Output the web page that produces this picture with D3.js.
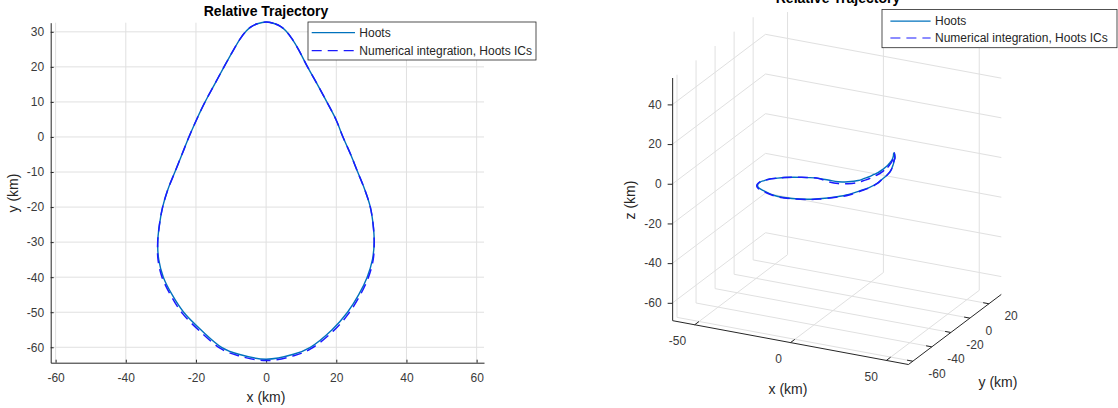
<!DOCTYPE html>
<html>
<head>
<meta charset="utf-8">
<script src="https://cdn.jsdelivr.net/npm/d3@7"></script>
<style>
body { margin: 0; background: #fff; }
svg text { font-family: "Liberation Sans", Arial, Helvetica, sans-serif; }
</style>
</head>
<body>
<script>
// relative position (km), one lap, Hoots solution
var hootsX = [0,2.5,4.2,5.6,7.4,9.2,11.8,14.6,17.3,19.9,21.9,24.1,26.1,28.1,29.7,30.5,30.8,30.3,28.8,26.4,23.2,18.8,12.6,7.8,0,-7.8,-12.7,-18.6,-23.5,-26.8,-29.3,-30.6,-30.9,-30.4,-29.5,-28,-26,-24,-22,-19.8,-17.4,-14.7,-12,-9.2,-7.4,-5.6,-4.2,-2.5];
var hootsY = [32.8,32.3,31.5,30.3,28,25,20,15,10,5,0,-5,-10,-15,-20,-25,-30,-35,-40,-45,-50,-55,-60,-62,-63.4,-62,-60,-55,-50,-45,-40,-35,-30,-25,-20,-15,-10,-5,0,5,10,15,20,25,28,30.3,31.5,32.3];
var hootsZ = [-16.8,-14.4,-12.3,-10.6,-8.1,-5.7,-2.2,0.4,1.7,2.4,3.1,3.8,4.7,5.6,6.2,6.4,6.5,5.9,5.4,5.1,4.5,4.3,4.1,3.7,3.2,2.3,1.9,0.6,-0.8,-2.3,-3.5,-4.3,-5.4,-6.3,-7.6,-8.8,-10.1,-11.6,-13.2,-15.0,-17.2,-19.4,-20.7,-21.4,-21.1,-20.6,-19.8,-18.8];

// numerical integration from the Hoots initial conditions
var numX = [0,2.5,4.2,5.6,7.4,9.2,11.8,14.6,17.3,19.9,21.9,24.1,26.1,28.1,29.7,30.5,30.8,30.5,29.1,26.7,23.5,19.1,12.8,7.9,0,-7.9,-12.9,-18.9,-23.8,-27.1,-29.6,-30.8,-30.9,-30.4,-29.5,-28,-26,-24,-22,-19.8,-17.4,-14.7,-12,-9.2,-7.4,-5.6,-4.2,-2.5];
var numY = [32.8,32.3,31.5,30.3,28,25,20,15,10,5,0,-5,-10,-15,-20,-25,-30,-35.1,-40.2,-45.3,-50.4,-55.4,-60.4,-62.4,-63.8,-62.4,-60.4,-55.4,-50.4,-45.3,-40.2,-35.1,-30,-25,-20,-15,-10,-5,0,5,10,15,20,25,28,30.3,31.5,32.3];
var numZ = [-17.8,-15.4,-13.2,-11.4,-8.8,-6.3,-2.6,0.4,1.7,2.4,3.1,3.8,4.7,5.6,6.2,6.4,6.5,5.9,5.4,5.1,4.5,4.3,4.1,3.7,3.2,2.3,1.9,0.6,-0.8,-2.3,-3.5,-4.3,-5.4,-6.3,-7.6,-8.8,-10.1,-11.6,-13.2,-15.0,-18.0,-20.3,-21.7,-22.4,-22.1,-21.6,-20.8,-19.8];

var xTicks2d = [-60,-40,-20,0,20,40,60];
var yTicks2d = [30,20,10,0,-10,-20,-30,-40,-50,-60];
var xTicks3d = [-50,0,50];
var yTicks3d = [-60,-40,-20,0,20];
var zTicks3d = [-60,-40,-20,0,20,40];
var legendLabels = ['Hoots','Numerical integration, Hoots ICs'];
var chartTitle = 'Relative Trajectory';

var ink = '#262626';
var gridColor = '#e0e0e0';
var hootsColor = '#0072bd';
var numColor = '#1a1aff';
var dash = '10,6';

var svg = d3.select('body').append('svg')
	.attr('width',1118)
	.attr('height',408);

var closedLine = d3.line().curve(d3.curveCatmullRomClosed.alpha(0.5));

function legend(g, x, y, w, h, rows, lineX0, lineX1, textX){
	g.append('rect')
		.attr('x',x).attr('y',y).attr('width',w).attr('height',h)
		.attr('fill','#fff').attr('stroke',ink).attr('stroke-width',0.8);
	legendLabels.forEach(function(lab,i){
		g.append('line')
			.attr('x1',x+lineX0).attr('x2',x+lineX1)
			.attr('y1',y+rows[i]).attr('y2',y+rows[i])
			.attr('stroke',i===0 ? hootsColor : numColor)
			.attr('stroke-width',1.2)
			.attr('stroke-dasharray',i===0 ? null : dash);
		g.append('text')
			.attr('x',x+textX).attr('y',y+rows[i])
			.attr('dominant-baseline','central')
			.attr('font-size',12).attr('fill',ink)
			.text(lab);
	});
}

// ---------------- left: x-y plane ----------------
var x2 = d3.scaleLinear().domain([-61.4,62.1]).range([50.7,484]);
var y2 = d3.scaleLinear().domain([-64.4,32.6]).range([362.7,22.7]);
var left = svg.append('g');

left.append('g').selectAll('line')
	.data(xTicks2d).enter().append('line')
	.attr('x1',d=>x2(d)).attr('x2',d=>x2(d))
	.attr('y1',y2.range()[0]).attr('y2',y2.range()[1])
	.attr('stroke',gridColor);
left.append('g').selectAll('line')
	.data(yTicks2d).enter().append('line')
	.attr('x1',x2.range()[0]).attr('x2',x2.range()[1])
	.attr('y1',d=>y2(d)).attr('y2',d=>y2(d))
	.attr('stroke',gridColor);

var xAxis2 = left.append('g')
	.attr('transform','translate(0,'+y2.range()[0]+')')
	.call(d3.axisBottom(x2).tickValues(xTicks2d).tickFormat(d=>String(d))
		.tickSizeInner(-3).tickSizeOuter(0).tickPadding(11));
var yAxis2 = left.append('g')
	.attr('transform','translate('+x2.range()[0]+',0)')
	.call(d3.axisLeft(y2).tickValues(yTicks2d).tickFormat(d=>String(d))
		.tickSizeInner(-3).tickSizeOuter(0).tickPadding(6.5));
[xAxis2,yAxis2].forEach(function(a){
	a.attr('font-family',null).attr('font-size',12);
	a.selectAll('path,line').attr('stroke',ink);
	a.selectAll('text').attr('fill','#3a3a3a');
});

left.append('path')
	.attr('d',closedLine(hootsX.map((d,i)=>[x2(d),y2(hootsY[i])])))
	.attr('fill','none').attr('stroke',hootsColor).attr('stroke-width',1.4);
left.append('path')
	.attr('d',closedLine(numX.map((d,i)=>[x2(d),y2(numY[i])])))
	.attr('fill','none').attr('stroke',numColor).attr('stroke-width',1.5)
	.attr('stroke-dasharray',dash);

left.append('text')
	.attr('x',266).attr('y',16)
	.attr('text-anchor','middle').attr('font-size',14).attr('font-weight','bold')
	.attr('fill','#000').text(chartTitle);
left.append('text')
	.attr('x',266).attr('y',402)
	.attr('text-anchor','middle').attr('font-size',14).attr('fill',ink)
	.text('x (km)');
left.append('text')
	.attr('transform','translate(18,193) rotate(-90)')
	.attr('text-anchor','middle').attr('font-size',14).attr('fill',ink)
	.text('y (km)');

legend(left.append('g'),308,22,228,38,[10.7,28.7],3.7,47,51.3);

// ---------------- right: 3D view ----------------
var az = 26.4*Math.PI/180, el = 22*Math.PI/180;
var lim = {x:[-61.5,61.5], y:[-64.6,33], z:[-69,53.3]};
var k3 = 2.14;
var u3 = d3.scaleLinear().domain([0,1]).range([852,852+k3]);
var v3 = d3.scaleLinear().domain([0,1]).range([159.3,159.3-k3]);
function proj(x,y,z){
	var u = Math.cos(az)*x + Math.sin(az)*y;
	var v = -Math.sin(el)*Math.sin(az)*x + Math.sin(el)*Math.cos(az)*y + Math.cos(el)*z;
	return [u3(u),v3(v)];
}
var right = svg.append('g');
var x0 = lim.x[0], x1 = lim.x[1], y0 = lim.y[0], y1 = lim.y[1], z0 = lim.z[0], z1 = lim.z[1];

var gridSegs = [];
xTicks3d.forEach(function(t){
	gridSegs.push([[t,y0,z0],[t,y1,z0]]);   // floor
	gridSegs.push([[t,y1,z0],[t,y1,z1]]);   // back wall
});
yTicks3d.forEach(function(t){
	gridSegs.push([[x0,t,z0],[x1,t,z0]]);   // floor
	gridSegs.push([[x0,t,z0],[x0,t,z1]]);   // side wall
});
zTicks3d.forEach(function(t){
	gridSegs.push([[x0,y0,t],[x0,y1,t]]);   // side wall
	gridSegs.push([[x0,y1,t],[x1,y1,t]]);   // back wall
});
right.append('g').selectAll('line')
	.data(gridSegs).enter().append('line')
	.attr('x1',d=>proj(...d[0])[0]).attr('y1',d=>proj(...d[0])[1])
	.attr('x2',d=>proj(...d[1])[0]).attr('y2',d=>proj(...d[1])[1])
	.attr('stroke',gridColor);

// axis lines
var axisSegs = [
	[[x0,y0,z0],[x1,y0,z0]],
	[[x1,y0,z0],[x1,y1,z0]],
	[[x0,y0,z0],[x0,y0,z1]]
];
right.append('g').selectAll('line')
	.data(axisSegs).enter().append('line')
	.attr('x1',d=>proj(...d[0])[0]).attr('y1',d=>proj(...d[0])[1])
	.attr('x2',d=>proj(...d[1])[0]).attr('y2',d=>proj(...d[1])[1])
	.attr('stroke',ink);

// z axis with d3 axis on projected scale
var zScale = d3.scaleLinear().domain([z0,z1])
	.range([proj(x0,y0,z0)[1],proj(x0,y0,z1)[1]]);
var zAxis = right.append('g')
	.attr('transform','translate('+proj(x0,y0,z0)[0]+',0)')
	.call(d3.axisLeft(zScale).tickValues(zTicks3d).tickFormat(d=>String(d))
		.tickSizeInner(5).tickSizeOuter(0).tickPadding(6));
zAxis.attr('font-family',null).attr('font-size',12);
zAxis.select('.domain').remove();
zAxis.selectAll('line').attr('stroke',ink);
zAxis.selectAll('text').attr('fill','#3a3a3a');

// x ticks and labels
var xt = right.append('g').selectAll('g').data(xTicks3d).enter().append('g');
xt.append('line')
	.attr('x1',d=>proj(d,y0,z0)[0]).attr('y1',d=>proj(d,y0,z0)[1])
	.attr('x2',d=>proj(d,y0+4.5,z0)[0]).attr('y2',d=>proj(d,y0+4.5,z0)[1])
	.attr('stroke',ink);
xt.append('text')
	.attr('x',d=>proj(d,y0,z0)[0]-8.5).attr('y',d=>proj(d,y0,z0)[1]+16.5)
	.attr('text-anchor','end').attr('dominant-baseline','central')
	.attr('font-size',12).attr('fill','#3a3a3a')
	.text(d=>String(d));

// y ticks and labels
var yt = right.append('g').selectAll('g').data(yTicks3d).enter().append('g');
yt.append('line')
	.attr('x1',d=>proj(x1,d,z0)[0]).attr('y1',d=>proj(x1,d,z0)[1])
	.attr('x2',d=>proj(x1-3,d,z0)[0]).attr('y2',d=>proj(x1-3,d,z0)[1])
	.attr('stroke',ink);
yt.append('text')
	.attr('x',d=>proj(x1,d,z0)[0]+15.5).attr('y',d=>proj(x1,d,z0)[1]+12.5)
	.attr('text-anchor','start').attr('dominant-baseline','central')
	.attr('font-size',12).attr('fill','#3a3a3a')
	.text(d=>String(d));

// trajectories
right.append('path')
	.attr('d',closedLine(hootsX.map((d,i)=>proj(d,hootsY[i],hootsZ[i]))))
	.attr('fill','none').attr('stroke',hootsColor).attr('stroke-width',1.4);
right.append('path')
	.attr('d',closedLine(numX.map((d,i)=>proj(d,numY[i],numZ[i]))))
	.attr('fill','none').attr('stroke',numColor).attr('stroke-width',1.5)
	.attr('stroke-dasharray',dash);

right.append('text')
	.attr('x',838).attr('y',3)
	.attr('text-anchor','middle').attr('font-size',14).attr('font-weight','bold')
	.attr('fill','#000').text(chartTitle);
right.append('text')
	.attr('x',788).attr('y',394)
	.attr('text-anchor','middle').attr('font-size',14).attr('fill',ink)
	.text('x (km)');
right.append('text')
	.attr('x',998).attr('y',387)
	.attr('text-anchor','middle').attr('font-size',14).attr('fill',ink)
	.text('y (km)');
right.append('text')
	.attr('transform','translate(635,200) rotate(-90)')
	.attr('text-anchor','middle').attr('font-size',14).attr('fill',ink)
	.text('z (km)');

legend(right.append('g'),882,9.4,235,38.3,[11.8,28.6],8.4,48.6,53);
</script>
</body>
</html>
